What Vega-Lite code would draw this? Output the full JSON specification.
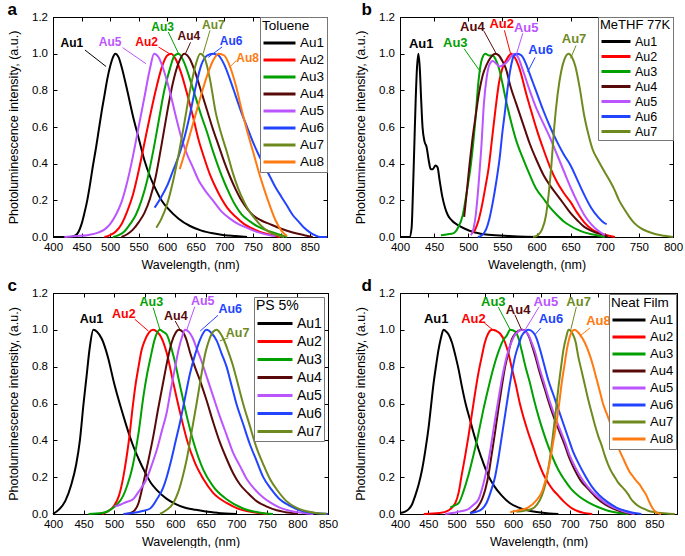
{
"$schema":"https://vega.github.io/schema/vega-lite/v6.json",
"background":"white",
"padding":{"left":7,"top":0,"right":4,"bottom":0},
"columns":2,
"spacing":{"row":5,"column":15},
"resolve":{"scale":{"color":"independent"},"legend":{"color":"independent"}},
"config":{
 "font":"Liberation Sans",
 "view":{"stroke":"#000","strokeWidth":1},
 "axis":{"grid":false,"domainColor":"#000","tickColor":"#000","labelColor":"#000","titleColor":"#000","labelFontSize":11.5,"titleFontSize":12.5,"titleFontWeight":"normal","tickSize":-4,"labelFlush":false,"labelOverlap":false},
 "axisX":{"titlePadding":5,"labelPadding":8.5},
 "axisY":{"titlePadding":11,"labelPadding":9.5},
 "legend":{"orient":"top-right","offset":0,"padding":2,"strokeColor":"#777","fillColor":"white","titleFontWeight":"normal","titleColor":"#000","labelColor":"#000","symbolType":"stroke","symbolStrokeWidth":3,"titlePadding":3,"labelOffset":3,"rowPadding":2},
 "title":{"anchor":"start","frame":"bounds","fontSize":17,"fontWeight":"bold","color":"#000","offset":-8}
},
"datasets":{
"pa":[
{"s":"Au1","w":400,"i":0},{"s":"Au1","w":430,"i":0},{"s":"Au1","w":440,"i":0.01},{"s":"Au1","w":445,"i":0.03},{"s":"Au1","w":450,"i":0.07},{"s":"Au1","w":455,"i":0.13},{"s":"Au1","w":460,"i":0.2},{"s":"Au1","w":465,"i":0.29},{"s":"Au1","w":470,"i":0.39},{"s":"Au1","w":475,"i":0.48},{"s":"Au1","w":480,"i":0.58},{"s":"Au1","w":485,"i":0.68},{"s":"Au1","w":490,"i":0.77},{"s":"Au1","w":495,"i":0.86},{"s":"Au1","w":500,"i":0.93},{"s":"Au1","w":505,"i":0.98},{"s":"Au1","w":509,"i":1},{"s":"Au1","w":515,"i":0.98},{"s":"Au1","w":520,"i":0.93},{"s":"Au1","w":530,"i":0.8},{"s":"Au1","w":540,"i":0.66},{"s":"Au1","w":550,"i":0.54},{"s":"Au1","w":560,"i":0.42},{"s":"Au1","w":570,"i":0.33},{"s":"Au1","w":580,"i":0.26},{"s":"Au1","w":590,"i":0.2},{"s":"Au1","w":600,"i":0.16},{"s":"Au1","w":620,"i":0.1},{"s":"Au1","w":640,"i":0.06},{"s":"Au1","w":660,"i":0.035},{"s":"Au1","w":680,"i":0.02},{"s":"Au1","w":700,"i":0.01},{"s":"Au1","w":720,"i":0.005},{"s":"Au1","w":740,"i":0},
{"s":"Au2","w":490,"i":0},{"s":"Au2","w":500,"i":0.01},{"s":"Au2","w":510,"i":0.03},{"s":"Au2","w":520,"i":0.07},{"s":"Au2","w":530,"i":0.14},{"s":"Au2","w":540,"i":0.23},{"s":"Au2","w":550,"i":0.36},{"s":"Au2","w":560,"i":0.51},{"s":"Au2","w":570,"i":0.66},{"s":"Au2","w":580,"i":0.8},{"s":"Au2","w":590,"i":0.92},{"s":"Au2","w":600,"i":0.99},{"s":"Au2","w":607,"i":1},{"s":"Au2","w":615,"i":0.97},{"s":"Au2","w":625,"i":0.89},{"s":"Au2","w":635,"i":0.78},{"s":"Au2","w":645,"i":0.66},{"s":"Au2","w":655,"i":0.53},{"s":"Au2","w":665,"i":0.43},{"s":"Au2","w":675,"i":0.34},{"s":"Au2","w":685,"i":0.27},{"s":"Au2","w":695,"i":0.21},{"s":"Au2","w":705,"i":0.16},{"s":"Au2","w":720,"i":0.11},{"s":"Au2","w":735,"i":0.07},{"s":"Au2","w":750,"i":0.045},{"s":"Au2","w":770,"i":0.02},{"s":"Au2","w":785,"i":0.01},{"s":"Au2","w":798,"i":0},
{"s":"Au3","w":505,"i":0},{"s":"Au3","w":515,"i":0.01},{"s":"Au3","w":525,"i":0.03},{"s":"Au3","w":535,"i":0.07},{"s":"Au3","w":545,"i":0.12},{"s":"Au3","w":555,"i":0.2},{"s":"Au3","w":565,"i":0.31},{"s":"Au3","w":575,"i":0.46},{"s":"Au3","w":585,"i":0.63},{"s":"Au3","w":595,"i":0.8},{"s":"Au3","w":605,"i":0.92},{"s":"Au3","w":613,"i":0.99},{"s":"Au3","w":620,"i":1},{"s":"Au3","w":630,"i":0.95},{"s":"Au3","w":640,"i":0.86},{"s":"Au3","w":650,"i":0.76},{"s":"Au3","w":660,"i":0.66},{"s":"Au3","w":670,"i":0.57},{"s":"Au3","w":680,"i":0.47},{"s":"Au3","w":690,"i":0.38},{"s":"Au3","w":700,"i":0.3},{"s":"Au3","w":710,"i":0.23},{"s":"Au3","w":720,"i":0.17},{"s":"Au3","w":730,"i":0.125},{"s":"Au3","w":745,"i":0.085},{"s":"Au3","w":760,"i":0.055},{"s":"Au3","w":780,"i":0.03},{"s":"Au3","w":800,"i":0.01},{"s":"Au3","w":810,"i":0},
{"s":"Au4","w":520,"i":0},{"s":"Au4","w":530,"i":0.015},{"s":"Au4","w":540,"i":0.04},{"s":"Au4","w":550,"i":0.08},{"s":"Au4","w":560,"i":0.13},{"s":"Au4","w":570,"i":0.21},{"s":"Au4","w":580,"i":0.33},{"s":"Au4","w":590,"i":0.5},{"s":"Au4","w":600,"i":0.68},{"s":"Au4","w":610,"i":0.84},{"s":"Au4","w":620,"i":0.95},{"s":"Au4","w":630,"i":1},{"s":"Au4","w":640,"i":0.97},{"s":"Au4","w":650,"i":0.89},{"s":"Au4","w":660,"i":0.79},{"s":"Au4","w":670,"i":0.69},{"s":"Au4","w":680,"i":0.59},{"s":"Au4","w":690,"i":0.5},{"s":"Au4","w":700,"i":0.41},{"s":"Au4","w":710,"i":0.33},{"s":"Au4","w":720,"i":0.26},{"s":"Au4","w":730,"i":0.2},{"s":"Au4","w":740,"i":0.155},{"s":"Au4","w":750,"i":0.12},{"s":"Au4","w":765,"i":0.09},{"s":"Au4","w":780,"i":0.07},{"s":"Au4","w":800,"i":0.045},{"s":"Au4","w":820,"i":0.025},{"s":"Au4","w":840,"i":0.01},{"s":"Au4","w":855,"i":0},
{"s":"Au5","w":420,"i":0},{"s":"Au5","w":440,"i":0.005},{"s":"Au5","w":460,"i":0.01},{"s":"Au5","w":480,"i":0.025},{"s":"Au5","w":490,"i":0.04},{"s":"Au5","w":500,"i":0.07},{"s":"Au5","w":510,"i":0.12},{"s":"Au5","w":520,"i":0.19},{"s":"Au5","w":530,"i":0.3},{"s":"Au5","w":540,"i":0.44},{"s":"Au5","w":550,"i":0.6},{"s":"Au5","w":560,"i":0.76},{"s":"Au5","w":570,"i":0.92},{"s":"Au5","w":577,"i":1},{"s":"Au5","w":585,"i":0.98},{"s":"Au5","w":595,"i":0.9},{"s":"Au5","w":605,"i":0.79},{"s":"Au5","w":615,"i":0.66},{"s":"Au5","w":625,"i":0.54},{"s":"Au5","w":635,"i":0.45},{"s":"Au5","w":645,"i":0.38},{"s":"Au5","w":655,"i":0.31},{"s":"Au5","w":665,"i":0.26},{"s":"Au5","w":680,"i":0.2},{"s":"Au5","w":695,"i":0.14},{"s":"Au5","w":710,"i":0.1},{"s":"Au5","w":725,"i":0.07},{"s":"Au5","w":740,"i":0.05},{"s":"Au5","w":760,"i":0.025},{"s":"Au5","w":780,"i":0.01},{"s":"Au5","w":790,"i":0.005},
{"s":"Au6","w":578,"i":0.16},{"s":"Au6","w":590,"i":0.22},{"s":"Au6","w":600,"i":0.28},{"s":"Au6","w":610,"i":0.36},{"s":"Au6","w":620,"i":0.44},{"s":"Au6","w":630,"i":0.54},{"s":"Au6","w":640,"i":0.67},{"s":"Au6","w":650,"i":0.82},{"s":"Au6","w":660,"i":0.94},{"s":"Au6","w":670,"i":0.99},{"s":"Au6","w":680,"i":1},{"s":"Au6","w":690,"i":0.99},{"s":"Au6","w":700,"i":0.94},{"s":"Au6","w":710,"i":0.86},{"s":"Au6","w":720,"i":0.77},{"s":"Au6","w":730,"i":0.68},{"s":"Au6","w":740,"i":0.6},{"s":"Au6","w":750,"i":0.52},{"s":"Au6","w":760,"i":0.45},{"s":"Au6","w":770,"i":0.39},{"s":"Au6","w":780,"i":0.33},{"s":"Au6","w":790,"i":0.27},{"s":"Au6","w":800,"i":0.22},{"s":"Au6","w":810,"i":0.17},{"s":"Au6","w":820,"i":0.12},{"s":"Au6","w":830,"i":0.085},{"s":"Au6","w":840,"i":0.05},{"s":"Au6","w":850,"i":0.025},{"s":"Au6","w":860,"i":0.008},{"s":"Au6","w":868,"i":0},{"s":"Au6","w":880,"i":0},
{"s":"Au7","w":581,"i":0.05},{"s":"Au7","w":590,"i":0.1},{"s":"Au7","w":600,"i":0.18},{"s":"Au7","w":610,"i":0.3},{"s":"Au7","w":620,"i":0.45},{"s":"Au7","w":630,"i":0.62},{"s":"Au7","w":640,"i":0.8},{"s":"Au7","w":650,"i":0.94},{"s":"Au7","w":658,"i":1},{"s":"Au7","w":665,"i":0.98},{"s":"Au7","w":675,"i":0.86},{"s":"Au7","w":685,"i":0.68},{"s":"Au7","w":695,"i":0.56},{"s":"Au7","w":705,"i":0.46},{"s":"Au7","w":715,"i":0.35},{"s":"Au7","w":725,"i":0.26},{"s":"Au7","w":735,"i":0.19},{"s":"Au7","w":745,"i":0.135},{"s":"Au7","w":755,"i":0.095},{"s":"Au7","w":765,"i":0.06},{"s":"Au7","w":775,"i":0.035},{"s":"Au7","w":790,"i":0.012},{"s":"Au7","w":805,"i":0},
{"s":"Au8","w":622,"i":0.37},{"s":"Au8","w":630,"i":0.45},{"s":"Au8","w":640,"i":0.56},{"s":"Au8","w":650,"i":0.67},{"s":"Au8","w":660,"i":0.78},{"s":"Au8","w":670,"i":0.88},{"s":"Au8","w":680,"i":0.96},{"s":"Au8","w":690,"i":1},{"s":"Au8","w":700,"i":0.99},{"s":"Au8","w":710,"i":0.93},{"s":"Au8","w":720,"i":0.83},{"s":"Au8","w":730,"i":0.7},{"s":"Au8","w":740,"i":0.58},{"s":"Au8","w":750,"i":0.47},{"s":"Au8","w":760,"i":0.36},{"s":"Au8","w":770,"i":0.26},{"s":"Au8","w":780,"i":0.17},{"s":"Au8","w":790,"i":0.09},{"s":"Au8","w":800,"i":0.035},{"s":"Au8","w":810,"i":0.005}
],
"pb":[
{"s":"Au1","w":400,"i":0},{"s":"Au1","w":414,"i":0},{"s":"Au1","w":417,"i":0.05},{"s":"Au1","w":419,"i":0.25},{"s":"Au1","w":421,"i":0.5},{"s":"Au1","w":423,"i":0.75},{"s":"Au1","w":425,"i":0.93},{"s":"Au1","w":427,"i":1},{"s":"Au1","w":429,"i":0.92},{"s":"Au1","w":431,"i":0.75},{"s":"Au1","w":433,"i":0.6},{"s":"Au1","w":436,"i":0.52},{"s":"Au1","w":439,"i":0.49},{"s":"Au1","w":442,"i":0.42},{"s":"Au1","w":445,"i":0.37},{"s":"Au1","w":448,"i":0.37},{"s":"Au1","w":452,"i":0.39},{"s":"Au1","w":455,"i":0.38},{"s":"Au1","w":458,"i":0.31},{"s":"Au1","w":462,"i":0.22},{"s":"Au1","w":466,"i":0.16},{"s":"Au1","w":470,"i":0.12},{"s":"Au1","w":476,"i":0.09},{"s":"Au1","w":485,"i":0.065},{"s":"Au1","w":495,"i":0.045},{"s":"Au1","w":510,"i":0.025},{"s":"Au1","w":530,"i":0.012},{"s":"Au1","w":560,"i":0.005},{"s":"Au1","w":600,"i":0},{"s":"Au1","w":700,"i":0},
{"s":"Au2","w":505,"i":0.02},{"s":"Au2","w":510,"i":0.04},{"s":"Au2","w":515,"i":0.09},{"s":"Au2","w":520,"i":0.17},{"s":"Au2","w":525,"i":0.27},{"s":"Au2","w":530,"i":0.38},{"s":"Au2","w":535,"i":0.54},{"s":"Au2","w":540,"i":0.7},{"s":"Au2","w":545,"i":0.84},{"s":"Au2","w":550,"i":0.92},{"s":"Au2","w":555,"i":0.96},{"s":"Au2","w":560,"i":0.99},{"s":"Au2","w":563,"i":1},{"s":"Au2","w":568,"i":0.98},{"s":"Au2","w":575,"i":0.92},{"s":"Au2","w":585,"i":0.78},{"s":"Au2","w":592,"i":0.69},{"s":"Au2","w":600,"i":0.59},{"s":"Au2","w":610,"i":0.48},{"s":"Au2","w":620,"i":0.38},{"s":"Au2","w":630,"i":0.3},{"s":"Au2","w":640,"i":0.24},{"s":"Au2","w":650,"i":0.19},{"s":"Au2","w":660,"i":0.13},{"s":"Au2","w":670,"i":0.08},{"s":"Au2","w":680,"i":0.045},{"s":"Au2","w":690,"i":0.025},{"s":"Au2","w":700,"i":0.012},{"s":"Au2","w":715,"i":0},
{"s":"Au3","w":460,"i":0.01},{"s":"Au3","w":470,"i":0.015},{"s":"Au3","w":478,"i":0.02},{"s":"Au3","w":485,"i":0.05},{"s":"Au3","w":492,"i":0.12},{"s":"Au3","w":498,"i":0.25},{"s":"Au3","w":504,"i":0.4},{"s":"Au3","w":510,"i":0.62},{"s":"Au3","w":515,"i":0.85},{"s":"Au3","w":520,"i":0.97},{"s":"Au3","w":525,"i":1},{"s":"Au3","w":530,"i":0.99},{"s":"Au3","w":535,"i":0.99},{"s":"Au3","w":540,"i":0.97},{"s":"Au3","w":545,"i":0.92},{"s":"Au3","w":550,"i":0.84},{"s":"Au3","w":555,"i":0.75},{"s":"Au3","w":560,"i":0.67},{"s":"Au3","w":570,"i":0.53},{"s":"Au3","w":580,"i":0.43},{"s":"Au3","w":590,"i":0.34},{"s":"Au3","w":600,"i":0.26},{"s":"Au3","w":610,"i":0.21},{"s":"Au3","w":620,"i":0.16},{"s":"Au3","w":630,"i":0.12},{"s":"Au3","w":640,"i":0.085},{"s":"Au3","w":650,"i":0.06},{"s":"Au3","w":660,"i":0.04},{"s":"Au3","w":670,"i":0.025},{"s":"Au3","w":685,"i":0.012},{"s":"Au3","w":700,"i":0},
{"s":"Au4","w":494,"i":0.11},{"s":"Au4","w":498,"i":0.25},{"s":"Au4","w":502,"i":0.4},{"s":"Au4","w":506,"i":0.53},{"s":"Au4","w":511,"i":0.665},{"s":"Au4","w":516,"i":0.79},{"s":"Au4","w":521,"i":0.88},{"s":"Au4","w":527,"i":0.94},{"s":"Au4","w":533,"i":0.98},{"s":"Au4","w":540,"i":1},{"s":"Au4","w":545,"i":0.99},{"s":"Au4","w":550,"i":0.96},{"s":"Au4","w":555,"i":0.92},{"s":"Au4","w":562,"i":0.82},{"s":"Au4","w":570,"i":0.73},{"s":"Au4","w":580,"i":0.62},{"s":"Au4","w":590,"i":0.51},{"s":"Au4","w":600,"i":0.42},{"s":"Au4","w":610,"i":0.34},{"s":"Au4","w":620,"i":0.28},{"s":"Au4","w":630,"i":0.23},{"s":"Au4","w":640,"i":0.18},{"s":"Au4","w":650,"i":0.13},{"s":"Au4","w":660,"i":0.09},{"s":"Au4","w":670,"i":0.055},{"s":"Au4","w":680,"i":0.035},{"s":"Au4","w":690,"i":0.02},{"s":"Au4","w":700,"i":0.01},{"s":"Au4","w":705,"i":0},
{"s":"Au5","w":504,"i":0.01},{"s":"Au5","w":508,"i":0.05},{"s":"Au5","w":511,"i":0.12},{"s":"Au5","w":515,"i":0.28},{"s":"Au5","w":519,"i":0.48},{"s":"Au5","w":523,"i":0.73},{"s":"Au5","w":527,"i":0.87},{"s":"Au5","w":531,"i":0.94},{"s":"Au5","w":536,"i":0.96},{"s":"Au5","w":541,"i":0.945},{"s":"Au5","w":546,"i":0.93},{"s":"Au5","w":552,"i":0.94},{"s":"Au5","w":558,"i":0.96},{"s":"Au5","w":563,"i":0.985},{"s":"Au5","w":568,"i":1},{"s":"Au5","w":573,"i":0.98},{"s":"Au5","w":580,"i":0.91},{"s":"Au5","w":590,"i":0.8},{"s":"Au5","w":600,"i":0.7},{"s":"Au5","w":610,"i":0.62},{"s":"Au5","w":620,"i":0.54},{"s":"Au5","w":630,"i":0.45},{"s":"Au5","w":640,"i":0.36},{"s":"Au5","w":650,"i":0.27},{"s":"Au5","w":660,"i":0.19},{"s":"Au5","w":670,"i":0.12},{"s":"Au5","w":680,"i":0.07},{"s":"Au5","w":690,"i":0.035},{"s":"Au5","w":700,"i":0.01},
{"s":"Au6","w":514,"i":0},{"s":"Au6","w":520,"i":0.01},{"s":"Au6","w":526,"i":0.04},{"s":"Au6","w":531,"i":0.1},{"s":"Au6","w":536,"i":0.19},{"s":"Au6","w":541,"i":0.3},{"s":"Au6","w":546,"i":0.43},{"s":"Au6","w":550,"i":0.57},{"s":"Au6","w":554,"i":0.69},{"s":"Au6","w":558,"i":0.82},{"s":"Au6","w":562,"i":0.92},{"s":"Au6","w":567,"i":0.99},{"s":"Au6","w":572,"i":1},{"s":"Au6","w":578,"i":0.99},{"s":"Au6","w":584,"i":0.95},{"s":"Au6","w":590,"i":0.89},{"s":"Au6","w":600,"i":0.79},{"s":"Au6","w":610,"i":0.69},{"s":"Au6","w":620,"i":0.6},{"s":"Au6","w":630,"i":0.52},{"s":"Au6","w":640,"i":0.45},{"s":"Au6","w":650,"i":0.39},{"s":"Au6","w":660,"i":0.31},{"s":"Au6","w":670,"i":0.23},{"s":"Au6","w":680,"i":0.16},{"s":"Au6","w":690,"i":0.11},{"s":"Au6","w":700,"i":0.075},{"s":"Au6","w":703,"i":0.07},
{"s":"Au7","w":595,"i":0},{"s":"Au7","w":602,"i":0.01},{"s":"Au7","w":608,"i":0.04},{"s":"Au7","w":614,"i":0.12},{"s":"Au7","w":618,"i":0.24},{"s":"Au7","w":622,"i":0.4},{"s":"Au7","w":626,"i":0.6},{"s":"Au7","w":631,"i":0.78},{"s":"Au7","w":636,"i":0.9},{"s":"Au7","w":641,"i":0.97},{"s":"Au7","w":647,"i":1},{"s":"Au7","w":652,"i":0.98},{"s":"Au7","w":657,"i":0.93},{"s":"Au7","w":663,"i":0.82},{"s":"Au7","w":670,"i":0.66},{"s":"Au7","w":676,"i":0.56},{"s":"Au7","w":682,"i":0.48},{"s":"Au7","w":690,"i":0.42},{"s":"Au7","w":699,"i":0.36},{"s":"Au7","w":707,"i":0.31},{"s":"Au7","w":714,"i":0.26},{"s":"Au7","w":721,"i":0.2},{"s":"Au7","w":729,"i":0.15},{"s":"Au7","w":736,"i":0.11},{"s":"Au7","w":743,"i":0.077},{"s":"Au7","w":752,"i":0.05},{"s":"Au7","w":763,"i":0.03},{"s":"Au7","w":775,"i":0.015},{"s":"Au7","w":787,"i":0.007},{"s":"Au7","w":800,"i":0}
],
"pc":[
{"s":"Au1","w":400,"i":0},{"s":"Au1","w":410,"i":0.025},{"s":"Au1","w":420,"i":0.07},{"s":"Au1","w":430,"i":0.16},{"s":"Au1","w":438,"i":0.27},{"s":"Au1","w":444,"i":0.4},{"s":"Au1","w":450,"i":0.6},{"s":"Au1","w":455,"i":0.75},{"s":"Au1","w":460,"i":0.9},{"s":"Au1","w":466,"i":1},{"s":"Au1","w":472,"i":0.99},{"s":"Au1","w":480,"i":0.95},{"s":"Au1","w":490,"i":0.85},{"s":"Au1","w":500,"i":0.71},{"s":"Au1","w":510,"i":0.59},{"s":"Au1","w":520,"i":0.48},{"s":"Au1","w":530,"i":0.38},{"s":"Au1","w":540,"i":0.3},{"s":"Au1","w":550,"i":0.23},{"s":"Au1","w":560,"i":0.17},{"s":"Au1","w":570,"i":0.13},{"s":"Au1","w":585,"i":0.085},{"s":"Au1","w":600,"i":0.055},{"s":"Au1","w":615,"i":0.035},{"s":"Au1","w":630,"i":0.025},{"s":"Au1","w":650,"i":0.013},{"s":"Au1","w":670,"i":0.006},{"s":"Au1","w":700,"i":0},
{"s":"Au2","w":480,"i":0},{"s":"Au2","w":490,"i":0.015},{"s":"Au2","w":500,"i":0.045},{"s":"Au2","w":508,"i":0.1},{"s":"Au2","w":515,"i":0.2},{"s":"Au2","w":520,"i":0.3},{"s":"Au2","w":525,"i":0.42},{"s":"Au2","w":530,"i":0.57},{"s":"Au2","w":535,"i":0.7},{"s":"Au2","w":540,"i":0.8},{"s":"Au2","w":545,"i":0.89},{"s":"Au2","w":550,"i":0.94},{"s":"Au2","w":557,"i":0.985},{"s":"Au2","w":564,"i":1},{"s":"Au2","w":570,"i":0.99},{"s":"Au2","w":577,"i":0.96},{"s":"Au2","w":586,"i":0.876},{"s":"Au2","w":597,"i":0.71},{"s":"Au2","w":608,"i":0.55},{"s":"Au2","w":619,"i":0.405},{"s":"Au2","w":632,"i":0.28},{"s":"Au2","w":646,"i":0.19},{"s":"Au2","w":662,"i":0.115},{"s":"Au2","w":684,"i":0.06},{"s":"Au2","w":706,"i":0.025},{"s":"Au2","w":733,"i":0.007},{"s":"Au2","w":750,"i":0},
{"s":"Au3","w":458,"i":0},{"s":"Au3","w":480,"i":0.005},{"s":"Au3","w":490,"i":0.015},{"s":"Au3","w":499,"i":0.035},{"s":"Au3","w":507,"i":0.06},{"s":"Au3","w":515,"i":0.1},{"s":"Au3","w":522,"i":0.16},{"s":"Au3","w":529,"i":0.24},{"s":"Au3","w":535,"i":0.34},{"s":"Au3","w":540,"i":0.44},{"s":"Au3","w":548,"i":0.64},{"s":"Au3","w":554,"i":0.76},{"s":"Au3","w":559,"i":0.84},{"s":"Au3","w":567,"i":0.955},{"s":"Au3","w":575,"i":1},{"s":"Au3","w":580,"i":0.99},{"s":"Au3","w":586,"i":0.975},{"s":"Au3","w":597,"i":0.86},{"s":"Au3","w":608,"i":0.695},{"s":"Au3","w":619,"i":0.53},{"s":"Au3","w":630,"i":0.39},{"s":"Au3","w":646,"i":0.24},{"s":"Au3","w":662,"i":0.15},{"s":"Au3","w":684,"i":0.08},{"s":"Au3","w":711,"i":0.03},{"s":"Au3","w":739,"i":0.007},{"s":"Au3","w":760,"i":0},
{"s":"Au4","w":520,"i":0},{"s":"Au4","w":530,"i":0.01},{"s":"Au4","w":540,"i":0.06},{"s":"Au4","w":548,"i":0.17},{"s":"Au4","w":556,"i":0.29},{"s":"Au4","w":564,"i":0.42},{"s":"Au4","w":572,"i":0.57},{"s":"Au4","w":580,"i":0.71},{"s":"Au4","w":587,"i":0.83},{"s":"Au4","w":594,"i":0.93},{"s":"Au4","w":600,"i":0.98},{"s":"Au4","w":606,"i":1},{"s":"Au4","w":612,"i":0.99},{"s":"Au4","w":618,"i":0.95},{"s":"Au4","w":624,"i":0.88},{"s":"Au4","w":632,"i":0.8},{"s":"Au4","w":640,"i":0.73},{"s":"Au4","w":651,"i":0.62},{"s":"Au4","w":662,"i":0.5},{"s":"Au4","w":673,"i":0.39},{"s":"Au4","w":684,"i":0.3},{"s":"Au4","w":695,"i":0.22},{"s":"Au4","w":706,"i":0.16},{"s":"Au4","w":720,"i":0.11},{"s":"Au4","w":733,"i":0.07},{"s":"Au4","w":750,"i":0.04},{"s":"Au4","w":766,"i":0.02},{"s":"Au4","w":780,"i":0.01},{"s":"Au4","w":795,"i":0.003},{"s":"Au4","w":800,"i":0},
{"s":"Au5","w":501,"i":0.04},{"s":"Au5","w":510,"i":0.05},{"s":"Au5","w":520,"i":0.065},{"s":"Au5","w":531,"i":0.08},{"s":"Au5","w":540,"i":0.12},{"s":"Au5","w":553,"i":0.19},{"s":"Au5","w":562,"i":0.27},{"s":"Au5","w":570,"i":0.35},{"s":"Au5","w":578,"i":0.45},{"s":"Au5","w":586,"i":0.55},{"s":"Au5","w":593,"i":0.68},{"s":"Au5","w":600,"i":0.8},{"s":"Au5","w":606,"i":0.9},{"s":"Au5","w":611,"i":0.96},{"s":"Au5","w":616,"i":1},{"s":"Au5","w":622,"i":0.99},{"s":"Au5","w":628,"i":0.96},{"s":"Au5","w":635,"i":0.9},{"s":"Au5","w":643,"i":0.83},{"s":"Au5","w":651,"i":0.75},{"s":"Au5","w":662,"i":0.64},{"s":"Au5","w":673,"i":0.53},{"s":"Au5","w":684,"i":0.43},{"s":"Au5","w":695,"i":0.33},{"s":"Au5","w":706,"i":0.26},{"s":"Au5","w":717,"i":0.19},{"s":"Au5","w":730,"i":0.135},{"s":"Au5","w":744,"i":0.09},{"s":"Au5","w":758,"i":0.058},{"s":"Au5","w":771,"i":0.035},{"s":"Au5","w":787,"i":0.018},{"s":"Au5","w":804,"i":0.008},{"s":"Au5","w":815,"i":0.003},{"s":"Au5","w":826,"i":0},
{"s":"Au6","w":515,"i":0},{"s":"Au6","w":530,"i":0.005},{"s":"Au6","w":545,"i":0.015},{"s":"Au6","w":559,"i":0.03},{"s":"Au6","w":570,"i":0.08},{"s":"Au6","w":580,"i":0.14},{"s":"Au6","w":586,"i":0.2},{"s":"Au6","w":594,"i":0.3},{"s":"Au6","w":601,"i":0.4},{"s":"Au6","w":608,"i":0.5},{"s":"Au6","w":616,"i":0.63},{"s":"Au6","w":624,"i":0.76},{"s":"Au6","w":632,"i":0.86},{"s":"Au6","w":641,"i":0.95},{"s":"Au6","w":651,"i":1},{"s":"Au6","w":660,"i":0.98},{"s":"Au6","w":668,"i":0.94},{"s":"Au6","w":676,"i":0.87},{"s":"Au6","w":684,"i":0.8},{"s":"Au6","w":692,"i":0.7},{"s":"Au6","w":700,"i":0.6},{"s":"Au6","w":711,"i":0.49},{"s":"Au6","w":722,"i":0.38},{"s":"Au6","w":733,"i":0.29},{"s":"Au6","w":744,"i":0.2},{"s":"Au6","w":757,"i":0.135},{"s":"Au6","w":771,"i":0.08},{"s":"Au6","w":787,"i":0.045},{"s":"Au6","w":804,"i":0.02},{"s":"Au6","w":820,"i":0.008},{"s":"Au6","w":837,"i":0.003},{"s":"Au6","w":850,"i":0},
{"s":"Au7","w":575,"i":0},{"s":"Au7","w":585,"i":0.02},{"s":"Au7","w":597,"i":0.06},{"s":"Au7","w":605,"i":0.12},{"s":"Au7","w":612,"i":0.2},{"s":"Au7","w":619,"i":0.3},{"s":"Au7","w":627,"i":0.45},{"s":"Au7","w":635,"i":0.6},{"s":"Au7","w":642,"i":0.74},{"s":"Au7","w":649,"i":0.87},{"s":"Au7","w":656,"i":0.95},{"s":"Au7","w":662,"i":0.99},{"s":"Au7","w":668,"i":1},{"s":"Au7","w":674,"i":0.98},{"s":"Au7","w":679,"i":0.95},{"s":"Au7","w":687,"i":0.88},{"s":"Au7","w":695,"i":0.8},{"s":"Au7","w":703,"i":0.7},{"s":"Au7","w":711,"i":0.6},{"s":"Au7","w":722,"i":0.48},{"s":"Au7","w":733,"i":0.36},{"s":"Au7","w":744,"i":0.27},{"s":"Au7","w":755,"i":0.19},{"s":"Au7","w":768,"i":0.125},{"s":"Au7","w":782,"i":0.07},{"s":"Au7","w":798,"i":0.035},{"s":"Au7","w":815,"i":0.015},{"s":"Au7","w":830,"i":0.006},{"s":"Au7","w":848,"i":0.002}
],
"pd":[
{"s":"Au1","w":400,"i":0.005},{"s":"Au1","w":408,"i":0.012},{"s":"Au1","w":415,"i":0.025},{"s":"Au1","w":421,"i":0.05},{"s":"Au1","w":427,"i":0.1},{"s":"Au1","w":433,"i":0.16},{"s":"Au1","w":439,"i":0.24},{"s":"Au1","w":445,"i":0.35},{"s":"Au1","w":451,"i":0.48},{"s":"Au1","w":455,"i":0.59},{"s":"Au1","w":459,"i":0.7},{"s":"Au1","w":464,"i":0.81},{"s":"Au1","w":468,"i":0.89},{"s":"Au1","w":472,"i":0.95},{"s":"Au1","w":477,"i":1},{"s":"Au1","w":482,"i":0.99},{"s":"Au1","w":486,"i":0.975},{"s":"Au1","w":492,"i":0.93},{"s":"Au1","w":498,"i":0.86},{"s":"Au1","w":504,"i":0.78},{"s":"Au1","w":509,"i":0.7},{"s":"Au1","w":516,"i":0.6},{"s":"Au1","w":524,"i":0.51},{"s":"Au1","w":531,"i":0.43},{"s":"Au1","w":539,"i":0.35},{"s":"Au1","w":547,"i":0.28},{"s":"Au1","w":556,"i":0.21},{"s":"Au1","w":567,"i":0.15},{"s":"Au1","w":580,"i":0.1},{"s":"Au1","w":594,"i":0.06},{"s":"Au1","w":609,"i":0.036},{"s":"Au1","w":625,"i":0.02},{"s":"Au1","w":645,"i":0.009},{"s":"Au1","w":665,"i":0.003},{"s":"Au1","w":680,"i":0},
{"s":"Au2","w":442,"i":0},{"s":"Au2","w":470,"i":0.005},{"s":"Au2","w":486,"i":0.02},{"s":"Au2","w":498,"i":0.06},{"s":"Au2","w":504,"i":0.12},{"s":"Au2","w":509,"i":0.21},{"s":"Au2","w":515,"i":0.31},{"s":"Au2","w":521,"i":0.42},{"s":"Au2","w":527,"i":0.54},{"s":"Au2","w":533,"i":0.66},{"s":"Au2","w":539,"i":0.77},{"s":"Au2","w":545,"i":0.86},{"s":"Au2","w":550,"i":0.93},{"s":"Au2","w":556,"i":0.98},{"s":"Au2","w":563,"i":1},{"s":"Au2","w":570,"i":0.995},{"s":"Au2","w":577,"i":0.98},{"s":"Au2","w":586,"i":0.93},{"s":"Au2","w":592,"i":0.87},{"s":"Au2","w":598,"i":0.79},{"s":"Au2","w":605,"i":0.7},{"s":"Au2","w":612,"i":0.6},{"s":"Au2","w":619,"i":0.52},{"s":"Au2","w":627,"i":0.44},{"s":"Au2","w":636,"i":0.36},{"s":"Au2","w":645,"i":0.28},{"s":"Au2","w":653,"i":0.22},{"s":"Au2","w":662,"i":0.17},{"s":"Au2","w":671,"i":0.13},{"s":"Au2","w":680,"i":0.1},{"s":"Au2","w":689,"i":0.07},{"s":"Au2","w":698,"i":0.045},{"s":"Au2","w":706,"i":0.028},{"s":"Au2","w":715,"i":0.015},{"s":"Au2","w":725,"i":0.006},{"s":"Au2","w":740,"i":0},
{"s":"Au3","w":489,"i":0.036},{"s":"Au3","w":496,"i":0.045},{"s":"Au3","w":504,"i":0.06},{"s":"Au3","w":512,"i":0.12},{"s":"Au3","w":521,"i":0.21},{"s":"Au3","w":530,"i":0.32},{"s":"Au3","w":539,"i":0.44},{"s":"Au3","w":547,"i":0.56},{"s":"Au3","w":556,"i":0.68},{"s":"Au3","w":565,"i":0.79},{"s":"Au3","w":574,"i":0.88},{"s":"Au3","w":582,"i":0.94},{"s":"Au3","w":589,"i":0.97},{"s":"Au3","w":595,"i":1},{"s":"Au3","w":604,"i":0.99},{"s":"Au3","w":610,"i":0.95},{"s":"Au3","w":615,"i":0.89},{"s":"Au3","w":622,"i":0.8},{"s":"Au3","w":630,"i":0.71},{"s":"Au3","w":637,"i":0.62},{"s":"Au3","w":645,"i":0.53},{"s":"Au3","w":653,"i":0.45},{"s":"Au3","w":662,"i":0.37},{"s":"Au3","w":671,"i":0.3},{"s":"Au3","w":680,"i":0.24},{"s":"Au3","w":691,"i":0.185},{"s":"Au3","w":703,"i":0.135},{"s":"Au3","w":717,"i":0.095},{"s":"Au3","w":733,"i":0.063},{"s":"Au3","w":750,"i":0.038},{"s":"Au3","w":768,"i":0.018},{"s":"Au3","w":785,"i":0.007},{"s":"Au3","w":804,"i":0},
{"s":"Au4","w":524,"i":0.005},{"s":"Au4","w":532,"i":0.02},{"s":"Au4","w":539,"i":0.045},{"s":"Au4","w":545,"i":0.08},{"s":"Au4","w":551,"i":0.135},{"s":"Au4","w":557,"i":0.22},{"s":"Au4","w":562,"i":0.32},{"s":"Au4","w":568,"i":0.44},{"s":"Au4","w":574,"i":0.57},{"s":"Au4","w":580,"i":0.69},{"s":"Au4","w":586,"i":0.8},{"s":"Au4","w":592,"i":0.88},{"s":"Au4","w":598,"i":0.95},{"s":"Au4","w":604,"i":0.98},{"s":"Au4","w":610,"i":0.995},{"s":"Au4","w":617,"i":1},{"s":"Au4","w":627,"i":0.97},{"s":"Au4","w":633,"i":0.92},{"s":"Au4","w":639,"i":0.86},{"s":"Au4","w":647,"i":0.77},{"s":"Au4","w":656,"i":0.68},{"s":"Au4","w":665,"i":0.59},{"s":"Au4","w":674,"i":0.51},{"s":"Au4","w":683,"i":0.44},{"s":"Au4","w":692,"i":0.37},{"s":"Au4","w":700,"i":0.3},{"s":"Au4","w":709,"i":0.24},{"s":"Au4","w":720,"i":0.18},{"s":"Au4","w":733,"i":0.135},{"s":"Au4","w":747,"i":0.09},{"s":"Au4","w":762,"i":0.054},{"s":"Au4","w":777,"i":0.03},{"s":"Au4","w":792,"i":0.013},{"s":"Au4","w":805,"i":0.004},{"s":"Au4","w":815,"i":0},
{"s":"Au5","w":480,"i":0},{"s":"Au5","w":500,"i":0.01},{"s":"Au5","w":521,"i":0.027},{"s":"Au5","w":530,"i":0.05},{"s":"Au5","w":539,"i":0.08},{"s":"Au5","w":548,"i":0.17},{"s":"Au5","w":556,"i":0.28},{"s":"Au5","w":562,"i":0.39},{"s":"Au5","w":568,"i":0.51},{"s":"Au5","w":574,"i":0.62},{"s":"Au5","w":580,"i":0.73},{"s":"Au5","w":586,"i":0.82},{"s":"Au5","w":592,"i":0.89},{"s":"Au5","w":598,"i":0.94},{"s":"Au5","w":604,"i":0.975},{"s":"Au5","w":610,"i":0.993},{"s":"Au5","w":616,"i":1},{"s":"Au5","w":622,"i":0.99},{"s":"Au5","w":627,"i":0.975},{"s":"Au5","w":633,"i":0.93},{"s":"Au5","w":639,"i":0.88},{"s":"Au5","w":647,"i":0.79},{"s":"Au5","w":656,"i":0.7},{"s":"Au5","w":665,"i":0.61},{"s":"Au5","w":674,"i":0.53},{"s":"Au5","w":683,"i":0.46},{"s":"Au5","w":692,"i":0.39},{"s":"Au5","w":700,"i":0.32},{"s":"Au5","w":709,"i":0.26},{"s":"Au5","w":720,"i":0.2},{"s":"Au5","w":733,"i":0.145},{"s":"Au5","w":747,"i":0.1},{"s":"Au5","w":762,"i":0.063},{"s":"Au5","w":777,"i":0.036},{"s":"Au5","w":792,"i":0.018},{"s":"Au5","w":805,"i":0.006},{"s":"Au5","w":815,"i":0},
{"s":"Au6","w":524,"i":0.005},{"s":"Au6","w":535,"i":0.012},{"s":"Au6","w":545,"i":0.027},{"s":"Au6","w":553,"i":0.06},{"s":"Au6","w":562,"i":0.135},{"s":"Au6","w":568,"i":0.2},{"s":"Au6","w":574,"i":0.3},{"s":"Au6","w":580,"i":0.42},{"s":"Au6","w":586,"i":0.54},{"s":"Au6","w":592,"i":0.66},{"s":"Au6","w":598,"i":0.77},{"s":"Au6","w":604,"i":0.86},{"s":"Au6","w":610,"i":0.92},{"s":"Au6","w":615,"i":0.965},{"s":"Au6","w":621,"i":0.99},{"s":"Au6","w":627,"i":1},{"s":"Au6","w":636,"i":0.985},{"s":"Au6","w":642,"i":0.95},{"s":"Au6","w":648,"i":0.89},{"s":"Au6","w":655,"i":0.81},{"s":"Au6","w":662,"i":0.73},{"s":"Au6","w":671,"i":0.65},{"s":"Au6","w":680,"i":0.57},{"s":"Au6","w":689,"i":0.49},{"s":"Au6","w":698,"i":0.41},{"s":"Au6","w":706,"i":0.34},{"s":"Au6","w":715,"i":0.28},{"s":"Au6","w":727,"i":0.21},{"s":"Au6","w":739,"i":0.15},{"s":"Au6","w":753,"i":0.1},{"s":"Au6","w":768,"i":0.063},{"s":"Au6","w":783,"i":0.035},{"s":"Au6","w":798,"i":0.018},{"s":"Au6","w":812,"i":0.007},{"s":"Au6","w":827,"i":0},
{"s":"Au7","w":606,"i":0.012},{"s":"Au7","w":620,"i":0.018},{"s":"Au7","w":633,"i":0.027},{"s":"Au7","w":642,"i":0.05},{"s":"Au7","w":651,"i":0.1},{"s":"Au7","w":657,"i":0.16},{"s":"Au7","w":662,"i":0.24},{"s":"Au7","w":667,"i":0.34},{"s":"Au7","w":671,"i":0.44},{"s":"Au7","w":676,"i":0.57},{"s":"Au7","w":680,"i":0.68},{"s":"Au7","w":685,"i":0.8},{"s":"Au7","w":689,"i":0.89},{"s":"Au7","w":694,"i":0.96},{"s":"Au7","w":698,"i":1},{"s":"Au7","w":706,"i":0.975},{"s":"Au7","w":711,"i":0.93},{"s":"Au7","w":715,"i":0.86},{"s":"Au7","w":721,"i":0.78},{"s":"Au7","w":727,"i":0.7},{"s":"Au7","w":733,"i":0.62},{"s":"Au7","w":739,"i":0.55},{"s":"Au7","w":745,"i":0.48},{"s":"Au7","w":751,"i":0.42},{"s":"Au7","w":757,"i":0.37},{"s":"Au7","w":762,"i":0.32},{"s":"Au7","w":768,"i":0.27},{"s":"Au7","w":774,"i":0.23},{"s":"Au7","w":780,"i":0.2},{"s":"Au7","w":786,"i":0.17},{"s":"Au7","w":792,"i":0.15},{"s":"Au7","w":798,"i":0.13},{"s":"Au7","w":804,"i":0.105},{"s":"Au7","w":809,"i":0.08},{"s":"Au7","w":815,"i":0.06},{"s":"Au7","w":821,"i":0.045},{"s":"Au7","w":830,"i":0.03},{"s":"Au7","w":839,"i":0.018},{"s":"Au7","w":850,"i":0.01},{"s":"Au7","w":862,"i":0.005},{"s":"Au7","w":875,"i":0.002},{"s":"Au7","w":886,"i":0},
{"s":"Au8","w":595,"i":0.01},{"s":"Au8","w":610,"i":0.02},{"s":"Au8","w":627,"i":0.036},{"s":"Au8","w":640,"i":0.07},{"s":"Au8","w":651,"i":0.12},{"s":"Au8","w":658,"i":0.19},{"s":"Au8","w":665,"i":0.28},{"s":"Au8","w":671,"i":0.39},{"s":"Au8","w":677,"i":0.5},{"s":"Au8","w":682,"i":0.61},{"s":"Au8","w":686,"i":0.71},{"s":"Au8","w":691,"i":0.81},{"s":"Au8","w":695,"i":0.89},{"s":"Au8","w":700,"i":0.96},{"s":"Au8","w":704,"i":0.99},{"s":"Au8","w":709,"i":1},{"s":"Au8","w":714,"i":0.99},{"s":"Au8","w":718,"i":0.975},{"s":"Au8","w":727,"i":0.93},{"s":"Au8","w":736,"i":0.86},{"s":"Au8","w":742,"i":0.8},{"s":"Au8","w":748,"i":0.73},{"s":"Au8","w":754,"i":0.66},{"s":"Au8","w":759,"i":0.6},{"s":"Au8","w":765,"i":0.55},{"s":"Au8","w":771,"i":0.5},{"s":"Au8","w":777,"i":0.44},{"s":"Au8","w":783,"i":0.39},{"s":"Au8","w":789,"i":0.34},{"s":"Au8","w":795,"i":0.3},{"s":"Au8","w":801,"i":0.26},{"s":"Au8","w":806,"i":0.23},{"s":"Au8","w":812,"i":0.205},{"s":"Au8","w":818,"i":0.18},{"s":"Au8","w":824,"i":0.16},{"s":"Au8","w":830,"i":0.13},{"s":"Au8","w":836,"i":0.1},{"s":"Au8","w":841,"i":0.065},{"s":"Au8","w":846,"i":0.035},{"s":"Au8","w":851,"i":0.015},{"s":"Au8","w":856,"i":0.005},{"s":"Au8","w":862,"i":0}
],
"na":[
{"s":"Au1","tx":433,"ty":1.06,"x1":456,"y1":1.02,"x2":493,"y2":0.93},
{"s":"Au5","tx":500,"ty":1.063,"x1":522,"y1":1.033,"x2":563,"y2":0.945},
{"s":"Au2","tx":564,"ty":1.063,"x1":585,"y1":1.036,"x2":606,"y2":0.996},
{"s":"Au3","tx":592,"ty":1.145,"x1":602,"y1":1.118,"x2":620,"y2":1.0},
{"s":"Au4","tx":638,"ty":1.095,"x1":641,"y1":1.062,"x2":632,"y2":1.0},
{"s":"Au7","tx":681,"ty":1.155,"x1":675,"y1":1.127,"x2":663,"y2":1.0},
{"s":"Au6","tx":712,"ty":1.068,"x1":696,"y1":1.036,"x2":672,"y2":0.98},
{"s":"Au8","tx":741,"ty":0.978,"x1":721,"y1":0.962,"x2":709,"y2":0.925}
],
"nb":[
{"s":"Au1","tx":431,"ty":1.055},
{"s":"Au3","tx":481,"ty":1.058,"x1":494,"y1":1.027,"x2":518,"y2":0.9},
{"s":"Au4","tx":506,"ty":1.145,"x1":523,"y1":1.123,"x2":541,"y2":1.0},
{"s":"Au2","tx":549,"ty":1.16,"x1":553,"y1":1.127,"x2":562,"y2":1.0},
{"s":"Au5","tx":585,"ty":1.14,"x1":580,"y1":1.112,"x2":570,"y2":0.99},
{"s":"Au6","tx":606,"ty":1.018,"x1":598,"y1":0.98,"x2":587,"y2":0.9},
{"s":"Au7","tx":655,"ty":1.08,"x1":658,"y1":1.045,"x2":650,"y2":0.975}
],
"nc":[
{"s":"Au1","tx":463,"ty":1.06},
{"s":"Au2","tx":516,"ty":1.084,"x1":534,"y1":1.057,"x2":556,"y2":0.994},
{"s":"Au3","tx":561,"ty":1.151,"x1":564,"y1":1.12,"x2":575,"y2":1.0},
{"s":"Au4","tx":601,"ty":1.075,"x1":600,"y1":1.048,"x2":608,"y2":1.0},
{"s":"Au5","tx":645,"ty":1.157,"x1":632,"y1":1.126,"x2":619,"y2":1.0},
{"s":"Au6","tx":690,"ty":1.111,"x1":670,"y1":1.079,"x2":641,"y2":0.994},
{"s":"Au7","tx":702,"ty":0.985,"x1":687,"y1":0.957,"x2":673,"y2":0.94}
],
"nd":[
{"s":"Au1","tx":464,"ty":1.06},
{"s":"Au2","tx":530,"ty":1.06,"x1":549,"y1":1.038,"x2":567,"y2":0.993},
{"s":"Au3","tx":565,"ty":1.15,"x1":574,"y1":1.123,"x2":595,"y2":1.0},
{"s":"Au4","tx":609,"ty":1.11,"x1":603,"y1":1.083,"x2":615,"y2":1.0},
{"s":"Au5","tx":658,"ty":1.15,"x1":646,"y1":1.125,"x2":620,"y2":0.993},
{"s":"Au6","tx":667,"ty":1.06,"x1":649,"y1":1.01,"x2":639,"y2":0.975},
{"s":"Au7","tx":716,"ty":1.15,"x1":712,"y1":1.125,"x2":702,"y2":1.0},
{"s":"Au8","tx":751,"ty":1.047,"x1":736,"y1":1.01,"x2":718,"y2":0.966}
]
},
"concat":[
{
 "width":274,"height":220,
 "title":{"text":"a"},
 "layer":[
  {"data":{"name":"pa"},"mark":{"type":"line","strokeWidth":2,"interpolate":"monotone"},
   "encoding":{
    "x":{"field":"w","type":"quantitative","scale":{"domain":[400,880],"nice":false,"zero":false},"axis":{"orient":"bottom","title":"Wavelength, (nm)","values":[400,450,500,550,600,650,700,750,800,850],"format":"d"}},
    "y":{"field":"i","type":"quantitative","scale":{"domain":[0,1.2],"nice":false},"axis":{"orient":"left","title":"Photoluminescence intensity, (a.u.)","values":[0,0.2,0.4,0.6,0.8,1,1.2],"format":".1f"}},
    "color":{"field":"s","type":"nominal","scale":{"domain":["Au1","Au2","Au3","Au4","Au5","Au6","Au7","Au8"],"range":["#000000","#ff0000","#00a000","#580a0a","#bb55ff","#2244ff","#6e8a1e","#ff7a10"]},
     "legend":{"title":"Toluene","titleFontSize":13.5,"labelFontSize":13.5,"symbolSize":1024,"clipHeight":15}}}},
  {"data":{"name":"na"},"transform":[{"filter":"isValid(datum.x1)"}],"mark":{"type":"rule","strokeWidth":1},
   "encoding":{
    "x":{"field":"x1","type":"quantitative","scale":{"domain":[400,880],"nice":false,"zero":false},"axis":{"orient":"top","labels":false,"title":null,"values":[400,450,500,550,600,650,700,750,800,850]}},
    "x2":{"field":"x2"},
    "y":{"field":"y1","type":"quantitative","scale":{"domain":[0,1.2],"nice":false},"axis":{"orient":"right","labels":false,"title":null,"values":[0,0.2,0.4,0.6,0.8,1,1.2]}},
    "y2":{"field":"y2"},
    "color":{"field":"s","type":"nominal"}}},
  {"data":{"name":"na"},"mark":{"type":"text","fontSize":12,"fontWeight":"bold"},
   "encoding":{
    "x":{"field":"tx","type":"quantitative","scale":{"domain":[400,880],"nice":false,"zero":false},"axis":null},
    "y":{"field":"ty","type":"quantitative","scale":{"domain":[0,1.2],"nice":false},"axis":null},
    "text":{"field":"s"},
    "color":{"field":"s","type":"nominal"}}}
 ],
 "resolve":{"axis":{"x":"independent","y":"independent"}}
},
{
 "width":273,"height":220,
 "title":{"text":"b","dx":7},
 "layer":[
  {"data":{"name":"pb"},"mark":{"type":"line","strokeWidth":2,"interpolate":"monotone"},
   "encoding":{
    "x":{"field":"w","type":"quantitative","scale":{"domain":[400,800],"nice":false,"zero":false},"axis":{"orient":"bottom","title":"Wavelength, (nm)","values":[400,450,500,550,600,650,700,750,800],"format":"d"}},
    "y":{"field":"i","type":"quantitative","scale":{"domain":[0,1.2],"nice":false},"axis":{"orient":"left","title":"Photoluminescence intensity, (a.u.)","values":[0,0.2,0.4,0.6,0.8,1,1.2],"format":".1f"}},
    "color":{"field":"s","type":"nominal","scale":{"domain":["Au1","Au2","Au3","Au4","Au5","Au6","Au7"],"range":["#000000","#ff0000","#00a000","#580a0a","#bb55ff","#2244ff","#6e8a1e"]},
     "legend":{"title":"MeTHF 77K","titleFontSize":13,"labelFontSize":12.5,"symbolSize":841,"clipHeight":13}}}},
  {"data":{"name":"nb"},"transform":[{"filter":"isValid(datum.x1)"}],"mark":{"type":"rule","strokeWidth":1},
   "encoding":{
    "x":{"field":"x1","type":"quantitative","scale":{"domain":[400,800],"nice":false,"zero":false},"axis":{"orient":"top","labels":false,"title":null,"values":[400,450,500,550,600,650,700,750,800]}},
    "x2":{"field":"x2"},
    "y":{"field":"y1","type":"quantitative","scale":{"domain":[0,1.2],"nice":false},"axis":{"orient":"right","labels":false,"title":null,"values":[0,0.2,0.4,0.6,0.8,1,1.2]}},
    "y2":{"field":"y2"},
    "color":{"field":"s","type":"nominal"}}},
  {"data":{"name":"nb"},"mark":{"type":"text","fontSize":13,"fontWeight":"bold"},
   "encoding":{
    "x":{"field":"tx","type":"quantitative","scale":{"domain":[400,800],"nice":false,"zero":false},"axis":null},
    "y":{"field":"ty","type":"quantitative","scale":{"domain":[0,1.2],"nice":false},"axis":null},
    "text":{"field":"s"},
    "color":{"field":"s","type":"nominal"}}}
 ],
 "resolve":{"axis":{"x":"independent","y":"independent"}}
},
{
 "width":275,"height":221,
 "title":{"text":"c"},
 "layer":[
  {"data":{"name":"pc"},"mark":{"type":"line","strokeWidth":2,"interpolate":"monotone"},
   "encoding":{
    "x":{"field":"w","type":"quantitative","scale":{"domain":[400,850],"nice":false,"zero":false},"axis":{"orient":"bottom","title":"Wavelength, (nm)","values":[400,450,500,550,600,650,700,750,800,850],"format":"d"}},
    "y":{"field":"i","type":"quantitative","scale":{"domain":[0,1.2],"nice":false},"axis":{"orient":"left","title":"Photoluminescence intensity, (a.u.)","values":[0,0.2,0.4,0.6,0.8,1,1.2],"format":".1f"}},
    "color":{"field":"s","type":"nominal","scale":{"domain":["Au1","Au2","Au3","Au4","Au5","Au6","Au7"],"range":["#000000","#ff0000","#00a000","#580a0a","#bb55ff","#2244ff","#6e8a1e"]},
     "legend":{"title":"PS 5%","titleFontSize":14,"labelFontSize":14,"symbolSize":1225,"clipHeight":15,"rowPadding":3,"offset":4}}}},
  {"data":{"name":"nc"},"transform":[{"filter":"isValid(datum.x1)"}],"mark":{"type":"rule","strokeWidth":1},
   "encoding":{
    "x":{"field":"x1","type":"quantitative","scale":{"domain":[400,850],"nice":false,"zero":false},"axis":{"orient":"top","labels":false,"title":null,"values":[400,450,500,550,600,650,700,750,800,850]}},
    "x2":{"field":"x2"},
    "y":{"field":"y1","type":"quantitative","scale":{"domain":[0,1.2],"nice":false},"axis":{"orient":"right","labels":false,"title":null,"values":[0,0.2,0.4,0.6,0.8,1,1.2]}},
    "y2":{"field":"y2"},
    "color":{"field":"s","type":"nominal"}}},
  {"data":{"name":"nc"},"mark":{"type":"text","fontSize":12.5,"fontWeight":"bold"},
   "encoding":{
    "x":{"field":"tx","type":"quantitative","scale":{"domain":[400,850],"nice":false,"zero":false},"axis":null},
    "y":{"field":"ty","type":"quantitative","scale":{"domain":[0,1.2],"nice":false},"axis":null},
    "text":{"field":"s"},
    "color":{"field":"s","type":"nominal"}}}
 ],
 "resolve":{"axis":{"x":"independent","y":"independent"}}
},
{
 "width":277,"height":221,
 "title":{"text":"d","dx":7},
 "layer":[
  {"data":{"name":"pd"},"mark":{"type":"line","strokeWidth":2,"interpolate":"monotone"},
   "encoding":{
    "x":{"field":"w","type":"quantitative","scale":{"domain":[400,890],"nice":false,"zero":false},"axis":{"orient":"bottom","title":"Wavelength, (nm)","values":[400,450,500,550,600,650,700,750,800,850],"format":"d"}},
    "y":{"field":"i","type":"quantitative","scale":{"domain":[0,1.2],"nice":false},"axis":{"orient":"left","title":"Photoluminescence intensity, (a.u.)","values":[0,0.2,0.4,0.6,0.8,1,1.2],"format":".1f"}},
    "color":{"field":"s","type":"nominal","scale":{"domain":["Au1","Au2","Au3","Au4","Au5","Au6","Au7","Au8"],"range":["#000000","#ff0000","#00a000","#580a0a","#bb55ff","#2244ff","#6e8a1e","#ff7a10"]},
     "legend":{"title":"Neat Film","titleFontSize":13.5,"labelFontSize":13,"symbolSize":1089,"clipHeight":15,"offset":1}}}},
  {"data":{"name":"nd"},"transform":[{"filter":"isValid(datum.x1)"}],"mark":{"type":"rule","strokeWidth":1},
   "encoding":{
    "x":{"field":"x1","type":"quantitative","scale":{"domain":[400,890],"nice":false,"zero":false},"axis":{"orient":"top","labels":false,"title":null,"values":[400,450,500,550,600,650,700,750,800,850]}},
    "x2":{"field":"x2"},
    "y":{"field":"y1","type":"quantitative","scale":{"domain":[0,1.2],"nice":false},"axis":{"orient":"right","labels":false,"title":null,"values":[0,0.2,0.4,0.6,0.8,1,1.2]}},
    "y2":{"field":"y2"},
    "color":{"field":"s","type":"nominal"}}},
  {"data":{"name":"nd"},"mark":{"type":"text","fontSize":13,"fontWeight":"bold"},
   "encoding":{
    "x":{"field":"tx","type":"quantitative","scale":{"domain":[400,890],"nice":false,"zero":false},"axis":null},
    "y":{"field":"ty","type":"quantitative","scale":{"domain":[0,1.2],"nice":false},"axis":null},
    "text":{"field":"s"},
    "color":{"field":"s","type":"nominal"}}}
 ],
 "resolve":{"axis":{"x":"independent","y":"independent"}}
}
]
}
